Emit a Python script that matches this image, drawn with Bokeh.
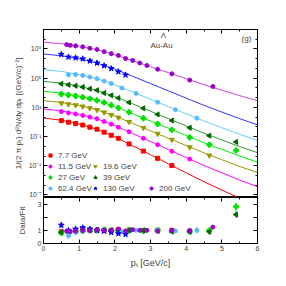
import math
import numpy as np
from bokeh.plotting import figure
from bokeh.layouts import column
from bokeh.models import (FixedTicker, LogAxis, LinearAxis, Range1d, Label,
                          Legend, LegendItem)
from bokeh.embed import file_html
from bokeh.resources import INLINE

# ---------------- data ----------------
labels = ["7.7 GeV", "11.5 GeV", "19.6 GeV", "27 GeV", "39 GeV", "62.4 GeV", "130 GeV", "200 GeV"]

fit_pt = [0.0, 0.5, 1.0, 1.5, 2.0, 2.5, 3.0, 3.5, 4.0, 4.5, 5.0, 5.5, 6.0]
fit_77 = [8.1, 4.8, 1.96, 0.57, 0.096, 0.0114, 1.36e-3, 1.6e-4, 1.9e-5, 2.3e-6, 3.2e-7, 4.6e-8, 7.8e-9]
fit_115 = [69, 43, 19.6, 6.5, 1.35, 0.205, 0.031, 4.7e-3, 7.1e-4, 1.07e-4, 1.9e-5, 3.4e-6, 7.0e-7]
fit_196 = [490, 320, 153, 55, 12.9, 2.25, 0.39, 0.068, 0.012, 2.1e-3, 4.2e-4, 8.5e-5, 2.0e-5]
fit_27 = [4.5e3, 2.9e3, 1.4e3, 520, 124, 22, 4.0, 0.72, 0.13, 0.023, 4.8e-3, 9.9e-4, 2.4e-4]
fit_39 = [4.7e4, 3.1e4, 1.5e4, 5.4e3, 1.3e3, 230, 40, 7.1, 1.26, 0.22, 0.045, 9.3e-3, 2.2e-3]
fit_624 = [7.6e5, 4.9e5, 2.4e5, 8.9e4, 2.1e4, 3.8e3, 680, 120, 22, 3.9, 0.81, 0.17, 0.040]
fit_130 = [3.1e7, 2.0e7, 9.8e6, 3.6e6, 8.6e5, 1.55e5, 2.8e4, 5.0e3, 890, 160, 33, 6.9, 1.6]
fit_200 = [5.0e8, 3.5e8, 1.9e8, 8.5e7, 2.6e7, 6.3e6, 1.5e6, 3.7e5, 8.9e4, 2.1e4, 5.8e3, 1.6e3, 490]

pt_77 = [0.5, 0.7, 0.9, 1.1, 1.3, 1.5, 1.7, 1.9, 2.1, 2.4, 2.8, 3.2, 3.6]
y_77 = [4.3, 3.0, 2.23, 1.53, 0.93, 0.57, 0.28, 0.137, 0.066, 0.0175, 3.2e-3, 5.8e-4, 1.05e-4]
r_77 = [0.9, 0.9, 0.95, 1.0, 1.0, 1.0, 1.0, 1.0, 1.05, 1.0, 1.0, 1.0, 1.0]
e_77 = [0.06, 0.05, 0.05, 0.05, 0.05, 0.05, 0.05, 0.05, 0.05, 0.06, 0.08, 0.1, 0.12]

pt_115 = [0.5, 0.7, 0.9, 1.1, 1.3, 1.5, 1.7, 1.9, 2.1, 2.4, 2.8, 3.2, 3.6, 4.1]
y_115 = [37, 27, 21, 15, 10.1, 6.9, 3.6, 1.85, 0.93, 0.31, 0.066, 0.0146, 3.1e-3, 4.9e-4]
r_115 = [0.85, 0.85, 0.9, 0.95, 1.0, 1.05, 1.05, 1.0, 1.0, 1.05, 1.0, 1.0, 0.95, 1.0]
e_115 = [0.06, 0.05, 0.05, 0.05, 0.05, 0.05, 0.05, 0.05, 0.05, 0.06, 0.07, 0.08, 0.1, 0.12]

pt_196 = [0.5, 0.7, 0.9, 1.1, 1.3, 1.5, 1.7, 1.9, 2.1, 2.4, 2.8, 3.2, 3.6, 4.1, 4.65]
y_196 = [270, 210, 168, 125, 83, 55, 31, 17, 9.1, 3.2, 0.79, 0.195, 0.048, 8.0e-3, 1.15e-3]
r_196 = [0.85, 0.9, 0.95, 1.0, 1.0, 1.0, 1.0, 1.0, 1.0, 1.0, 1.0, 1.0, 1.0, 0.95, 0.9]
e_196 = [0.06, 0.05, 0.05, 0.05, 0.05, 0.05, 0.05, 0.05, 0.05, 0.05, 0.06, 0.07, 0.08, 0.1, 0.12]

pt_27 = [0.5, 0.7, 0.9, 1.1, 1.3, 1.5, 1.7, 1.9, 2.1, 2.4, 2.8, 3.2, 3.6, 4.1, 4.65, 5.4]
y_27 = [2.3e3, 1.85e3, 1.47e3, 1.1e3, 780, 520, 310, 166, 88, 32, 7.6, 2.0, 0.49, 0.082, 0.0144, 3.8e-3]
r_27 = [0.8, 0.85, 0.9, 0.95, 1.0, 1.0, 1.05, 1.0, 1.0, 1.0, 0.95, 1.0, 0.95, 0.9, 1.0, 2.8]
e_27 = [0.06, 0.05, 0.05, 0.05, 0.05, 0.05, 0.05, 0.05, 0.05, 0.05, 0.06, 0.07, 0.08, 0.1, 0.12, 0.3]

pt_39 = [0.5, 0.7, 0.9, 1.1, 1.3, 1.5, 1.7, 1.9, 2.1, 2.4, 2.8, 3.2, 3.6, 4.1, 4.65, 5.4]
y_39 = [2.6e4, 2.07e4, 1.64e4, 1.22e4, 8.1e3, 5.7e3, 3.0e3, 1.71e3, 910, 320, 80, 19, 4.5, 0.80, 0.124, 0.028]
r_39 = [0.85, 0.9, 0.95, 1.0, 1.0, 1.05, 1.0, 1.0, 1.0, 1.0, 1.0, 0.95, 0.9, 0.9, 0.9, 2.2]
e_39 = [0.06, 0.05, 0.05, 0.05, 0.05, 0.05, 0.05, 0.05, 0.05, 0.05, 0.06, 0.07, 0.08, 0.1, 0.12, 0.25]

pt_624 = [0.7, 0.9, 1.1, 1.3, 1.5, 1.7, 1.9, 2.2, 2.6, 3.2, 3.7, 4.3]
y_624 = [2.2e5, 2.36e5, 1.88e5, 1.32e5, 8.9e4, 5.0e4, 2.8e4, 9.6e3, 2.7e3, 340, 58, 7.8]
r_624 = [0.6, 0.85, 0.95, 1.0, 1.0, 1.0, 1.0, 0.9, 1.0, 1.0, 0.95, 1.0]
e_624 = [0.25, 0.1, 0.08, 0.06, 0.06, 0.06, 0.06, 0.08, 0.08, 0.1, 0.15, 0.25]

pt_130 = [0.5, 0.7, 0.9, 1.1, 1.3, 1.5, 1.7, 1.9, 2.1, 2.3]
y_130 = [2.8e7, 1.5e7, 1.24e7, 9.7e6, 5.9e6, 3.6e6, 1.93e6, 9.8e5, 4.6e5, 2.15e5]
r_130 = [1.4, 1.0, 1.1, 1.2, 1.1, 1.0, 0.95, 0.85, 0.75, 0.7]
e_130 = [0.2, 0.1, 0.1, 0.1, 0.1, 0.1, 0.1, 0.1, 0.1, 0.1]

pt_200 = [0.65, 0.75, 0.9, 1.1, 1.3, 1.5, 1.7, 1.9, 2.1, 2.3, 2.5, 2.7, 2.9, 3.2, 3.6, 4.1, 4.75]
y_200 = [2.8e8, 2.35e8, 2.08e8, 1.65e8, 1.18e8, 8.9e7, 5.3e7, 3.3e7, 2.15e7, 1.05e7, 6.6e6, 3.56e6,
         2.0e6, 8.2e5, 2.8e5, 6.4e4, 1.4e4]
r_200 = [0.95, 0.9, 0.95, 1.0, 1.0, 1.05, 1.0, 1.0, 1.1, 0.95, 1.05, 1.0, 1.0, 0.95, 1.0, 0.95, 1.25]
e_200 = [0.05, 0.05, 0.05, 0.05, 0.05, 0.05, 0.05, 0.05, 0.05, 0.05, 0.05, 0.05, 0.05, 0.06, 0.07, 0.08, 0.1]

x_ticks = [0, 1, 2, 3, 4, 5, 6]
x_minor = [0.5, 1.5, 2.5, 3.5, 4.5, 5.5]
y_ticks = [1e-7, 1e-4, 1e-1, 1e2, 1e5, 1e8]
y_tick_labels = ["10\u207b\u2077", "10\u207b\u2074", "10\u207b\u00b9", "10\u00b2", "10\u2075", "10\u2078"]
y_minor = [1e-7, 1e-6, 1e-5, 1e-4, 1e-3, 1e-2, 1e-1, 1e0, 1e1, 1e2, 1e3, 1e4, 1e5, 1e6, 1e7, 1e8, 1e9]
ratio_ticks = [0, 1, 2, 3]
ratio_tick_labels = ["0", "1", "", "3"]

# ---------------- style ----------------
FONT = "Liberation Sans"
series = [
    (pt_77, y_77, r_77, e_77, fit_77, "square", "#ff0000", "#ff0000", 4, 0),
    (pt_115, y_115, r_115, e_115, fit_115, "circle", "#ff00ff", "#ff00ff", 4, 0),
    (pt_196, y_196, r_196, e_196, fit_196, "inverted_triangle", "#999900", "#999900", 5, 0),
    (pt_27, y_27, r_27, e_27, fit_27, "plus", "#00e000", "#00ee00", 5, 0),
    (pt_39, y_39, r_39, e_39, fit_39, "triangle", "#006600", "#339933", 5, math.pi / 2),
    (pt_624, y_624, r_624, e_624, fit_624, "circle", "#55bbff", "#66ccff", 4, 0),
    (pt_130, y_130, r_130, e_130, fit_130, "star", "#0000ff", "#3333ff", 6, 0),
    (pt_200, y_200, r_200, e_200, fit_200, "circle", "#9900cc", "#cc44dd", 4, 0),
]


def style_axis(ax, labels_on=True, size="7px"):
    ax.axis_line_color = "black"
    ax.axis_line_width = 1
    ax.major_tick_in = 4
    ax.major_tick_out = 0
    ax.minor_tick_in = 2
    ax.minor_tick_out = 0
    ax.major_label_text_font = FONT
    ax.major_label_standoff = 2
    ax.axis_label_text_font = FONT
    ax.axis_label_text_font_style = "normal"
    if labels_on:
        ax.major_label_text_font_size = size
    else:
        ax.major_label_text_font_size = "1px"
        ax.major_label_text_color = None
        ax.major_label_standoff = 0


# ---------------- top panel ----------------
top = figure(width=286, height=197, x_range=Range1d(0, 6), y_range=Range1d(5.5e-8, 1e10),
             y_axis_type="log", output_backend="svg", toolbar_location=None,
             min_border_left=43, min_border_right=29, min_border_top=29, min_border_bottom=0)
top.xgrid.visible = False
top.ygrid.visible = False
top.outline_line_color = "black"
top.background_fill_color = "white"
top.xaxis.visible = False

top.yaxis.ticker = FixedTicker(ticks=y_ticks, minor_ticks=y_minor)
top.yaxis.major_label_overrides = {t: l for t, l in zip(y_ticks, y_tick_labels)}
style_axis(top.yaxis[0])
top.yaxis.axis_label = "1/(2 \u03c0 p\u209c) d\u00b2N/dy dp\u209c [(GeV/c)\u207b\u00b2]"
top.yaxis.axis_label_text_font_size = "8px"
top.yaxis.axis_label_standoff = 3

rax = LogAxis(ticker=FixedTicker(ticks=y_ticks, minor_ticks=y_minor))
style_axis(rax, labels_on=False)
top.add_layout(rax, "right")
tax = LinearAxis(ticker=FixedTicker(ticks=x_ticks, minor_ticks=x_minor))
style_axis(tax, labels_on=False)
top.add_layout(tax, "above")

renderers = []
for pt, y, r, e, fit, marker, mc, lc, sz, ang in series:
    top.line(fit_pt, fit, line_color=lc, line_width=1)
for pt, y, r, e, fit, marker, mc, lc, sz, ang in series:
    rr = top.scatter(pt, y, marker=marker, size=sz, angle=ang, fill_color=mc, line_color=mc)
    renderers.append(rr)

legend_cols = [[0, 1, 3, 5], [2, 4, 6], [7]]
legend_x = [3, 48, 104]
for idx, lx in zip(legend_cols, legend_x):
    items = [LegendItem(label=labels[i], renderers=[renderers[i]]) for i in idx]
    leg = Legend(items=items, orientation="vertical", location=(lx, 4),
                 padding=0, margin=0, spacing=1, glyph_width=8, glyph_height=10,
                 label_height=10, label_standoff=4,
                 label_text_font=FONT, label_text_font_size="8px",
                 border_line_alpha=0, background_fill_alpha=0)
    top.add_layout(leg)

for txt, xs, ys in [("\u039b", 120, 162), ("Au-Au", 118, 152), ("(g)", 203, 159)]:
    top.add_layout(Label(x=xs, y=ys, x_units="screen", y_units="screen", text=txt,
                         text_font=FONT, text_font_size="8px", text_align="center",
                         text_baseline="middle"))

# ---------------- ratio panel ----------------
bot = figure(width=286, height=89, x_range=top.x_range, y_range=Range1d(0, 3.5),
             output_backend="svg", toolbar_location=None,
             min_border_left=43, min_border_right=29, min_border_top=0, min_border_bottom=43)
bot.xgrid.visible = False
bot.ygrid.visible = False
bot.outline_line_color = "black"

bot.xaxis.ticker = FixedTicker(ticks=x_ticks, minor_ticks=x_minor)
style_axis(bot.xaxis[0])
bot.xaxis.axis_label = "p\u209c [GeV/c]"
bot.xaxis.axis_label_text_font_size = "9px"
bot.xaxis.axis_label_standoff = 4

bot.yaxis.ticker = FixedTicker(ticks=ratio_ticks)
bot.yaxis.major_label_overrides = {t: l for t, l in zip(ratio_ticks, ratio_tick_labels)}
style_axis(bot.yaxis[0])
bot.yaxis.axis_label = "Data/Fit"
bot.yaxis.axis_label_text_font_size = "8px"
bot.yaxis.axis_label_standoff = 8

rax2 = LinearAxis(ticker=FixedTicker(ticks=ratio_ticks))
style_axis(rax2, labels_on=False)
bot.add_layout(rax2, "right")
tax2 = LinearAxis(ticker=FixedTicker(ticks=x_ticks, minor_ticks=x_minor))
style_axis(tax2, labels_on=False)
bot.add_layout(tax2, "above")

for pt, y, r, e, fit, marker, mc, lc, sz, ang in series:
    ra = np.array(r)
    ea = np.array(e)
    bot.segment(x0=pt, y0=ra - ea, x1=pt, y1=ra + ea, line_color=mc, line_width=1)
    bot.scatter(pt, r, marker=marker, size=sz, angle=ang, fill_color=mc, line_color=mc)

layout = column(top, bot, spacing=0)
open("out.html", "w").write(file_html(layout, INLINE))
